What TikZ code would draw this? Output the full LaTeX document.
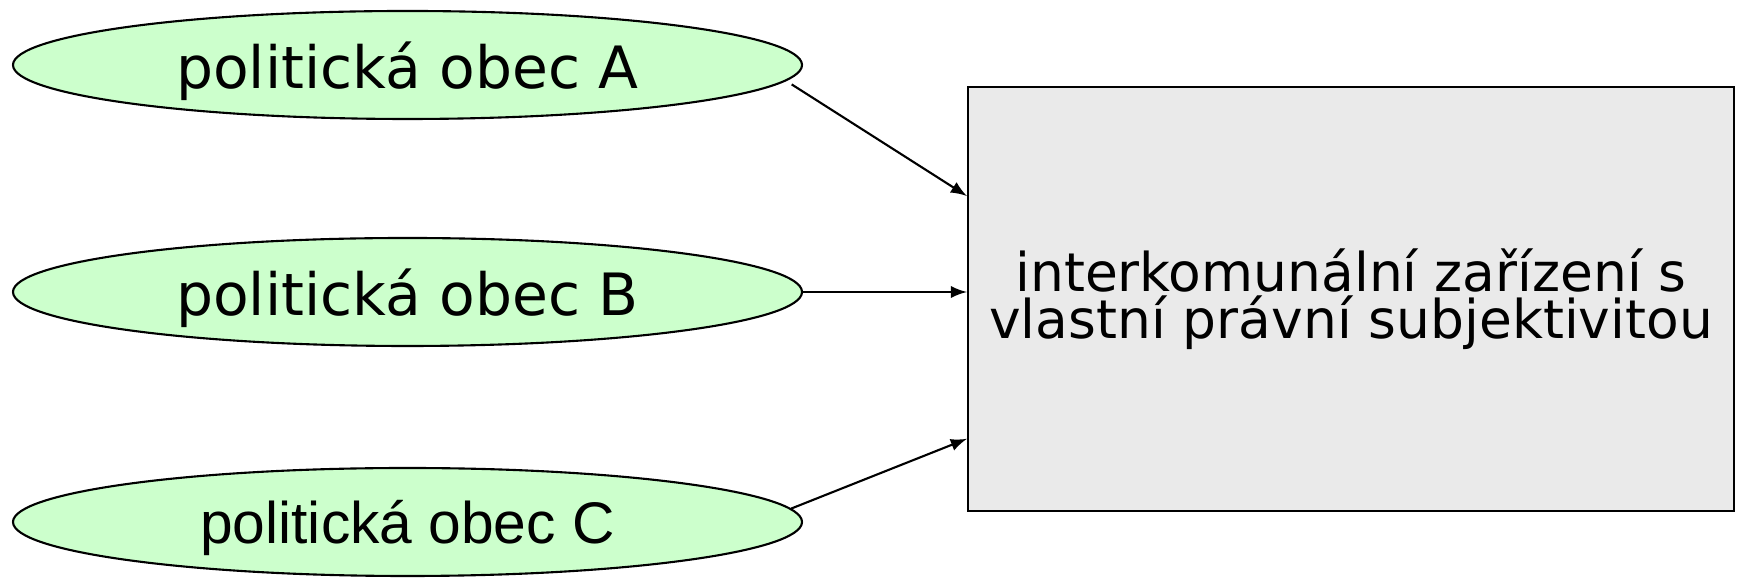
\documentclass[tikz,border=0pt]{standalone}
\usepackage{fontspec}
\setmainfont{DejaVu Sans}
\newfontfamily\arialfont{Liberation Sans}
\usepackage{tikz}
\usetikzlibrary{shapes.geometric}
\usetikzlibrary{arrows}
\definecolor{obecgreen}{HTML}{CCFFCC}
\definecolor{boxgray}{HTML}{EAEAEA}

\begin{document}
\begin{tikzpicture}[
		obec/.style={shape=ellipse, draw, line width=0.6pt, fill=obecgreen, minimum width=7.89cm, minimum height=1.08cm, inner sep=0pt, text depth=0pt, font=\fontsize{16.6}{19}\selectfont},
		zarizeni/.style={shape=rectangle, draw, line width=0.6pt, fill=boxgray, minimum width=7.66cm, minimum height=4.24cm, align=center, font=\fontsize{15.2}{13.4}\selectfont},
		spoj/.style={-latex, line width=0.6pt}]
			\useasboundingbox (0, 0) rectangle (17.42, 5.81);
			% Nodes:
			\node[obec](A) at (4.075, 5.16){politická obec A};
			\node[obec](B) at (4.075, 2.89){politická obec B};
			\node[obec, font=\arialfont\fontsize{16.7}{19}\selectfont](C) at (4.075, 0.59){politická obec C};
			\node[zarizeni](Z) at (13.51, 2.82){interkomunální zařízení s\\vlastní právní subjektivitou};
			% Arrows:
			\draw[spoj] ([xshift=0.14cm]A.-3.3) -- (Z.165);
			\draw[spoj] (B.east) -- (B.east -| Z.west);
			\draw[spoj] (C.2.5) -- (Z.200);
		\end{tikzpicture}
\end{document}
